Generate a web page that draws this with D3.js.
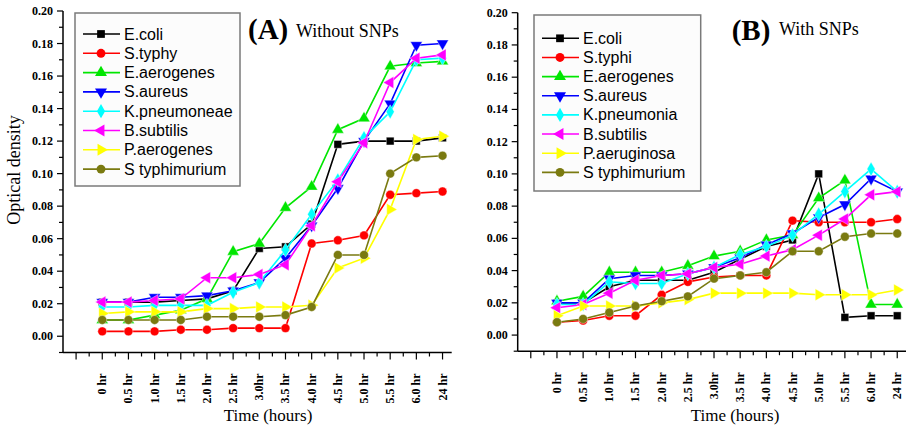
<!DOCTYPE html>
<html><head><meta charset="utf-8">
<script src="https://cdn.jsdelivr.net/npm/d3@7"></script>
<style>body{margin:0;background:#fff}svg{display:block}</style>
</head><body><svg id="c" width="906" height="429"></svg>
<script>
const categories = ["0 hr","0.5 hr","1.0 hr","1.5 hr","2.0 hr","2.5 hr","3.0hr","3.5 hr","4.0 hr","4.5 hr","5.0 hr","5.5 hr","6.0 hr","24 hr"];
const yTicks = [0,0.02,0.04,0.06,0.08,0.10,0.12,0.14,0.16,0.18,0.20];
const colors = ["#000000","#ff0000","#00e600","#0000ff","#00ffff","#ff00ff","#ffff00","#7a7a10"];
const markers = ["square","circle","up","down","diamond","left","right","circle"];

const namesA = ["E.coli","S.typhy","E.aerogenes","S.aureus","K.pneumoneae","B.subtilis","P.aerogenes","S typhimurium"];
const ecoliA   = [0.021,0.021,0.021,0.022,0.023,0.028,0.054,0.055,0.069,0.118,0.120,0.120,0.120,0.122];
const typhyA   = [0.003,0.003,0.003,0.004,0.004,0.005,0.005,0.005,0.057,0.059,0.062,0.087,0.088,0.089];
const aeroA    = [0.010,0.010,0.013,0.016,0.023,0.052,0.057,0.079,0.092,0.127,0.134,0.166,0.168,0.169];
const aureusA  = [0.021,0.021,0.024,0.024,0.025,0.028,0.033,0.048,0.068,0.091,0.120,0.143,0.179,0.180];
const kpneuA   = [0.018,0.018,0.019,0.019,0.019,0.027,0.033,0.053,0.075,0.096,0.122,0.138,0.170,0.171];
const subtA    = [0.021,0.021,0.022,0.023,0.036,0.036,0.038,0.044,0.068,0.095,0.119,0.156,0.171,0.173];
const paeroA   = [0.014,0.015,0.015,0.015,0.017,0.017,0.018,0.018,0.019,0.042,0.048,0.078,0.121,0.123];
const typhimA  = [0.010,0.010,0.010,0.010,0.012,0.012,0.012,0.013,0.018,0.050,0.050,0.100,0.110,0.111];

const namesB = ["E.coli","S.typhi","E.aerogenes","S.aureus","K.pneumonia","B.subtilis","P.aeruginosa","S typhimurium"];
const ecoliB   = [0.020,0.020,0.030,0.034,0.034,0.034,0.039,0.047,0.055,0.059,0.100,0.011,0.012,0.012];
const typhiB   = [0.008,0.009,0.012,0.012,0.025,0.033,0.036,0.037,0.037,0.071,0.070,0.070,0.070,0.072];
const aeroB    = [0.021,0.024,0.039,0.039,0.039,0.043,0.049,0.052,0.059,0.062,0.085,0.096,0.019,0.019];
const aureusB  = [0.020,0.020,0.035,0.037,0.037,0.038,0.042,0.048,0.056,0.063,0.073,0.081,0.097,0.089];
const kpneuB   = [0.019,0.019,0.033,0.032,0.032,0.038,0.042,0.050,0.055,0.062,0.075,0.089,0.103,0.089];
const subtB    = [0.017,0.019,0.026,0.034,0.037,0.038,0.042,0.044,0.049,0.053,0.062,0.072,0.087,0.089];
const paerugB  = [0.012,0.018,0.018,0.018,0.020,0.022,0.026,0.026,0.026,0.026,0.025,0.025,0.025,0.028];
const typhimB  = [0.008,0.010,0.014,0.018,0.021,0.024,0.035,0.037,0.039,0.052,0.052,0.061,0.063,0.063];

const seriesA = [ecoliA,typhyA,aeroA,aureusA,kpneuA,subtA,paeroA,typhimA];
const seriesB = [ecoliB,typhiB,aeroB,aureusB,kpneuB,subtB,paerugB,typhimB];

const svg = d3.select("#c");
const serif = "'Liberation Serif','Times New Roman',serif";
const sans = "'Liberation Sans',Arial,sans-serif";

function markerPath(type){
  const m = {square:[d3.symbolSquare,60,0],circle:[d3.symbolCircle,62,0],up:[d3.symbolTriangle,62,0],
    down:[d3.symbolTriangle,62,180],diamond:[d3.symbolDiamond,58,0],left:[d3.symbolTriangle,62,-90],right:[d3.symbolTriangle,62,90]}[type];
  return {d: d3.symbol().type(m[0]).size(m[1])(), rot: m[2]};
}

function panel(cfg){
  const x = d3.scaleLinear().domain([-1.5,13.35]).range([cfg.x0,cfg.x1]);
  const y = d3.scaleLinear().domain([-0.01,0.20]).range([cfg.yb,cfg.yt]);
  const g = svg.append("g");

  // axes
  const xAxisG = g.append("g").attr("transform",`translate(0,${cfg.yb})`);
  const majorX = d3.range(-1,14);
  const minorX = d3.range(-0.5,13.5,1);
  xAxisG.append("line").attr("x1",cfg.x0).attr("x2",cfg.x1).attr("stroke","#000").attr("stroke-width",1.5);
  xAxisG.selectAll(".mj").data(majorX).enter().append("line").attr("x1",d=>x(d)).attr("x2",d=>x(d)).attr("y1",0).attr("y2",7).attr("stroke","#000").attr("stroke-width",1.2);
  xAxisG.selectAll(".mn").data(minorX).enter().append("line").attr("x1",d=>x(d)).attr("x2",d=>x(d)).attr("y1",0).attr("y2",4).attr("stroke","#000").attr("stroke-width",1.2);
  xAxisG.selectAll(".lb").data(categories).enter().append("text")
    .attr("transform",(d,i)=>`translate(${x(i)+4},21) rotate(-90)`)
    .attr("text-anchor","end").attr("font-family",serif).attr("font-weight","bold").attr("font-size",12).text(d=>d);

  const yAxisG = g.append("g").attr("transform",`translate(${cfg.x0},0)`);
  yAxisG.append("line").attr("y1",cfg.yb).attr("y2",cfg.yt).attr("stroke","#000").attr("stroke-width",1.5);
  const minorY = [-0.01,0.01,0.03,0.05,0.07,0.09,0.11,0.13,0.15,0.17,0.19];
  yAxisG.selectAll(".mj").data(yTicks).enter().append("line").attr("x1",-6).attr("x2",0).attr("y1",d=>y(d)).attr("y2",d=>y(d)).attr("stroke","#000").attr("stroke-width",1.2);
  yAxisG.selectAll(".mn").data(minorY).enter().append("line").attr("x1",-4).attr("x2",0).attr("y1",d=>y(d)).attr("y2",d=>y(d)).attr("stroke","#000").attr("stroke-width",1.2);
  yAxisG.selectAll(".lb").data(yTicks).enter().append("text").attr("x",-10).attr("y",d=>y(d)+4)
    .attr("text-anchor","end").attr("font-family",serif).attr("font-weight","bold").attr("font-size",12).text(d=>d.toFixed(2));

  // lines
  const line = d3.line().x((d,i)=>x(i)).y(d=>y(d));
  cfg.series.forEach((s,k)=>{
    g.append("path").attr("d",line(s)).attr("fill","none").attr("stroke",colors[k]).attr("stroke-width",1.6);
    const mp = markerPath(markers[k]);
    g.selectAll(null).data(s).enter().append("path").attr("d",mp.d)
      .attr("transform",(d,i)=>`translate(${x(i)},${y(d)}) rotate(${mp.rot})`)
      .attr("fill",colors[k]).attr("stroke","#fff").attr("stroke-width",0.4);
  });

  // legend
  const L = cfg.legend;
  g.append("rect").attr("x",L.x).attr("y",L.y).attr("width",L.w).attr("height",L.h).attr("fill","#fcfcfc").attr("stroke","#7a7a7a").attr("stroke-width",1.5);
  cfg.names.forEach((n,k)=>{
    const yy = L.r0 + k*L.dr;
    g.append("line").attr("x1",L.x+8).attr("x2",L.x+45).attr("y1",yy).attr("y2",yy).attr("stroke",colors[k]).attr("stroke-width",1.6);
    const mp = markerPath(markers[k]);
    g.append("path").attr("d",mp.d).attr("transform",`translate(${L.x+26},${yy}) rotate(${mp.rot})`).attr("fill",colors[k]);
    g.append("text").attr("x",L.x+49).attr("y",yy+5.5).attr("font-family",sans).attr("font-size",16).text(n);
  });

  // title
  g.append("text").attr("x",cfg.tx).attr("y",cfg.ty).attr("font-family",serif).attr("font-weight","bold").attr("font-size",29).text(cfg.tag);
  g.append("text").attr("x",cfg.sx).attr("y",cfg.sy).attr("font-family",serif).attr("font-size",18).text(cfg.sub);

  // x title
  g.append("text").attr("x",cfg.xtx).attr("y",421).attr("text-anchor","middle").attr("font-family",serif).attr("font-size",17).text("Time (hours)");
}

panel({x0:63,x1:451.7,yb:352.5,yt:11,series:seriesA,names:namesA,
  legend:{x:75,y:13,w:165,h:173,r0:34,dr:19.3},
  tag:"(A)",tx:248,ty:39,sub:"Without SNPs",sx:296,sy:37,xtx:268});
panel({x0:517.7,x1:906.4,yb:351.2,yt:12.7,series:seriesB,names:namesB,
  legend:{x:534,y:15,w:166.7,h:176,r0:38.3,dr:19.15},
  tag:"(B)",tx:731.7,ty:40,sub:"With SNPs",sx:779,sy:35,xtx:735});

svg.append("text").attr("transform","translate(20,170) rotate(-90)").attr("text-anchor","middle")
  .attr("font-family",serif).attr("font-size",18).text("Optical density");
</script></body></html>
